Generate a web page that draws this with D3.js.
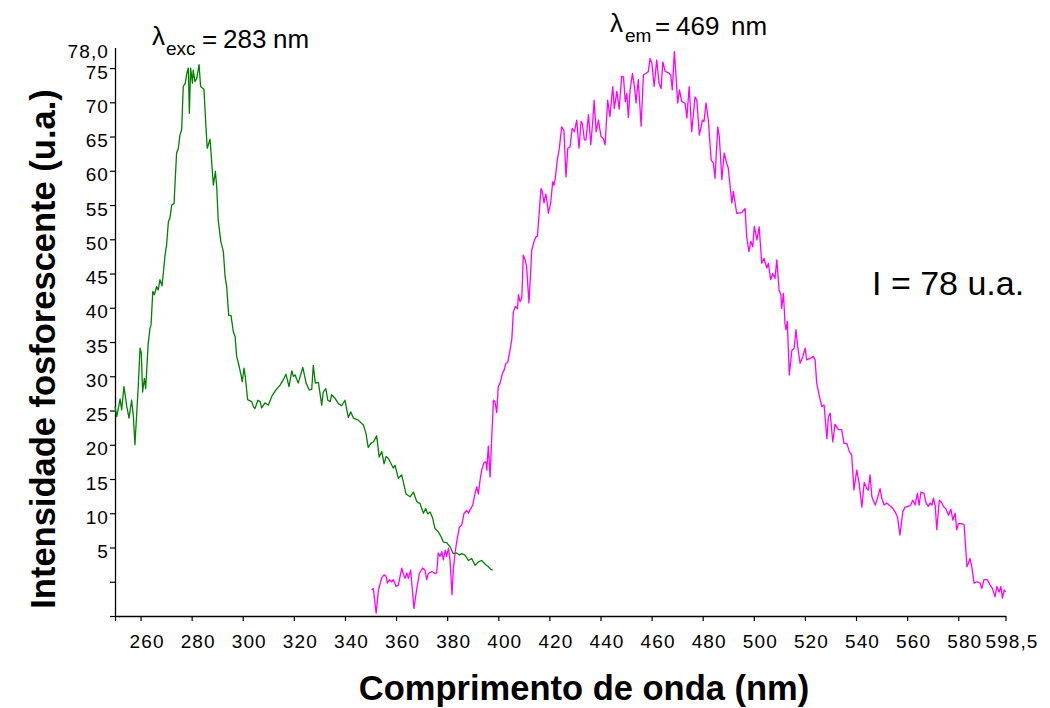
<!DOCTYPE html>
<html><head><meta charset="utf-8">
<script src="https://cdn.jsdelivr.net/npm/d3@7"></script>
<style>
html,body{margin:0;padding:0;background:#fff;}
svg{display:block;}
text{font-family:"Liberation Sans",Arial,Helvetica,sans-serif;}
</style></head><body>
<svg id="chart" width="1050" height="708"></svg>
<script>
// Excitation spectrum (green)
const excWavelength = [250.0,250.7,252.0,252.6,253.5,254.6,255.5,256.5,257.2,257.8,259.1,259.8,260.3,260.8,261.5,262.0,263.0,263.7,264.1,264.8,265.4,266.3,266.9,267.6,268.4,268.9,269.6,270.2,270.9,271.5,272.2,273.1,274.1,274.8,275.4,276.1,276.7,277.5,278.1,278.7,279.1,279.6,280.3,280.6,281.3,282.0,282.9,283.5,284.8,285.6,286.1,287.2,288.5,289.3,289.8,290.4,291.4,292.4,293.1,293.7,294.5,295.4,296.3,297.0,297.6,298.3,299.2,299.8,300.5,301.0,301.9,303.5,304.1,304.8,305.9,306.8,307.4,308.7,310.0,311.4,313.0,314.6,315.9,316.9,318.1,319.2,319.8,320.5,321.7,323.5,324.8,326.0,327.0,327.6,328.4,329.6,330.9,331.5,332.5,333.3,334.2,334.8,336.1,337.4,338.7,340.0,341.3,342.3,343.3,345.2,347.2,348.2,349.1,350.1,351.1,352.4,353.4,354.4,355.3,356.1,357.0,358.9,359.6,360.9,362.2,363.9,365.5,366.8,368.1,369.4,370.7,371.6,372.4,373.3,374.3,375.2,376.5,377.6,378.5,379.8,381.1,382.4,383.7,384.8,385.7,387.0,388.3,389.6,390.9,392.2,393.5,394.8,396.1,397.1,397.8];
const excIntensity = [25.6,24.1,26.7,25.1,28.5,25.6,23.9,26.5,24.1,20.0,28.5,34.1,33.4,27.7,29.7,28.2,34.8,37.0,37.5,42.4,41.9,43.1,42.6,44.1,43.2,45.0,47.7,49.2,52.6,53.1,55.0,55.2,62.6,63.3,65.2,66.0,72.3,72.8,74.2,75.0,68.4,75.0,72.8,74.7,73.0,73.5,75.5,72.3,71.9,66.4,63.3,64.6,57.9,59.9,57.7,52.8,49.7,48.2,44.5,43.1,38.9,38.9,36.5,35.8,32.9,31.9,30.4,29.2,31.2,29.9,26.6,26.3,25.6,25.3,26.5,26.3,25.4,26.1,25.8,27.1,28.0,28.7,29.5,30.3,28.5,30.8,30.0,30.2,29.0,31.3,29.0,28.0,28.1,31.6,29.0,29.1,25.8,27.7,28.2,26.5,26.3,27.3,26.8,26.0,25.7,26.5,24.0,24.8,23.9,23.6,22.9,21.7,19.6,20.2,20.4,21.3,18.2,19.0,17.2,18.3,18.0,16.6,17.0,15.1,15.6,12.8,12.4,13.1,11.7,11.4,10.0,10.7,9.9,10.2,9.3,7.8,7.3,6.6,5.8,5.7,5.1,4.1,4.2,3.9,4.1,3.9,3.1,3.4,2.4,2.9,3.1,2.6,2.2,1.8,1.7];

// Emission spectrum (magenta)
const emWavelength = [350.5,351.1,352.2,353.1,354.4,355.3,356.1,356.6,357.4,358.3,358.9,360.0,360.9,362.2,362.8,363.5,364.2,364.8,365.7,367.0,368.1,369.1,370.4,371.3,372.0,372.6,374.0,375.2,375.9,376.5,377.2,377.9,378.5,379.2,379.8,380.5,381.1,381.9,382.4,383.1,383.7,384.8,385.7,386.6,387.7,388.3,389.0,390.0,390.9,391.6,392.2,392.9,393.5,394.4,395.2,395.5,396.1,396.8,397.4,398.1,398.7,399.4,400.0,400.7,401.6,402.3,403.0,403.7,404.6,405.3,405.9,406.7,407.5,407.9,408.5,409.2,409.8,410.5,411.1,412.0,412.7,413.1,414.0,414.8,415.3,416.1,416.7,417.2,417.9,418.6,419.0,419.6,420.5,421.3,421.8,422.3,423.1,423.9,424.8,425.7,426.5,427.2,428.1,428.9,429.8,430.7,431.6,432.4,432.9,433.7,434.3,435.3,436.2,437.0,437.5,438.3,439.2,440.2,441.1,441.8,442.8,443.7,444.8,445.4,446.4,447.3,448.3,449.0,449.7,450.3,450.9,451.6,452.5,453.3,453.9,454.8,455.9,456.8,457.7,458.7,459.4,460.1,461.0,462.0,462.9,463.7,464.4,465.3,466.6,467.5,468.1,468.9,469.6,470.2,470.9,471.8,473.1,473.8,474.7,475.7,477.0,477.7,478.7,479.9,480.5,481.3,482.2,483.3,484.2,484.8,485.9,486.5,487.5,488.4,489.4,490.0,491.4,492.0,493.3,495.3,496.6,497.2,498.1,498.8,499.6,500.2,501.2,502.1,503.1,504.0,505.1,505.7,506.6,507.4,508.3,509.0,509.9,510.6,510.9,511.6,512.2,512.6,513.1,513.9,514.9,515.8,516.5,517.2,518.1,519.2,520.1,520.7,522.0,523.3,524.0,524.6,525.7,526.6,527.5,528.6,529.2,529.9,530.9,531.8,533.1,534.4,535.3,536.4,537.4,538.3,539.2,540.3,541.2,542.3,543.2,544.2,544.8,545.5,546.2,547.5,548.4,549.4,550.1,551.0,552.0,553.3,554.4,555.3,556.2,557.2,558.3,559.2,560.5,561.4,562.2,563.1,564.0,564.7,565.4,566.6,567.4,568.3,569.0,569.7,570.3,571.0,571.6,572.6,573.6,574.2,575.3,576.2,577.1,577.9,578.8,579.4,580.1,581.4,582.3,583.4,584.0,584.6,585.3,586.2,587.3,588.6,589.2,590.1,591.4,592.5,593.4,594.4,595.1,596.0,596.7,597.3,598.0,598.5];
const emIntensity = [-1.2,-1.0,-4.6,-1.2,0.6,1.0,0.8,-0.2,0.3,0.0,0.3,-0.7,-0.5,2.0,1.2,0.5,1.3,0.5,1.7,-3.9,-1.0,1.2,2.0,1.7,0.3,1.2,1.5,1.2,1.3,4.2,3.7,4.4,3.2,4.6,3.7,4.9,3.2,-1.9,1.7,4.2,5.8,8.0,8.3,10.0,10.4,10.0,10.5,11.2,12.9,13.9,12.8,14.9,16.3,17.4,17.5,16.3,19.8,15.3,20.7,26.5,26.3,24.7,28.5,29.0,30.4,30.9,31.9,32.0,33.8,35.4,39.4,40.2,39.9,41.9,40.9,41.4,47.7,47.0,46.0,40.7,45.5,48.4,49.7,50.4,50.4,54.3,57.4,57.0,55.3,56.6,55.7,53.8,55.3,58.4,57.9,58.9,61.6,63.3,66.4,65.9,59.1,63.3,63.5,66.2,65.7,67.4,63.3,67.2,66.9,64.5,64.5,68.2,63.8,67.4,70.3,65.7,67.4,65.0,64.7,63.8,70.3,67.9,72.3,69.1,71.6,69.0,73.8,73.7,70.1,71.3,67.8,71.8,74.2,72.3,69.9,73.3,66.5,74.0,74.2,74.5,76.4,75.7,72.3,76.2,72.8,72.0,75.9,74.5,74.3,74.0,71.8,77.4,73.7,69.9,71.8,70.1,69.9,67.7,72.3,65.7,70.8,70.3,65.2,67.4,67.2,69.9,67.4,61.6,61.1,58.9,66.4,65.0,58.7,62.6,61.1,60.4,55.3,57.0,53.8,53.9,54.5,50.4,48.2,49.7,48.9,51.9,49.9,51.8,46.5,47.2,45.8,46.5,44.1,45.0,44.3,47.0,42.6,41.9,39.9,42.1,37.7,36.8,38.0,30.2,33.8,34.1,36.8,34.3,31.9,32.9,34.1,32.4,32.6,32.9,32.4,29.0,27.0,25.6,25.8,20.9,24.1,24.6,20.4,23.0,22.2,22.2,20.2,20.2,19.0,18.5,13.4,16.3,14.4,10.9,14.5,13.6,13.4,15.6,12.4,11.2,12.2,13.6,12.2,11.2,11.5,11.1,10.7,10.2,9.5,6.8,10.2,10.9,11.0,11.2,11.9,11.2,12.9,11.2,13.1,12.9,11.5,11.0,11.5,11.2,12.2,11.1,7.6,11.9,11.5,11.0,10.6,9.7,10.6,9.0,10.0,7.6,8.5,8.5,8.3,2.2,2.7,3.4,2.2,-0.2,0.0,-0.2,-1.0,0.3,0.3,-0.5,-1.0,-2.2,-0.7,-1.5,-0.7,-2.4,-1.2,-1.5];

// Axis ticks
const xTickValues = [250,260,280,300,320,340,360,380,400,420,440,460,480,500,520,540,560,580,598.5];
const xTickLabels = ["","260","280","300","320","340","360","380","400","420","440","460","480","500","520","540","560","580","598,5"];
const yTickValues = [-5,0,5,10,15,20,25,30,35,40,45,50,55,60,65,70,75];
const yTickLabels = ["","","5","10","15","20","25","30","35","40","45","50","55","60","65","70","75"];
const yTopValue = 78;
const yTopLabel = "78,0";

const svg = d3.select("#chart");
const FONT = '"Liberation Sans", Arial, Helvetica, sans-serif';

const x = d3.scaleLinear().domain([250, 598.5]).range([115, 1005.5]);
const y = d3.scaleLinear().domain([-5, 78]).range([616, 47.5]);

// X axis
const gx = svg.append("g")
  .attr("transform", `translate(0,${y(-5)})`)
  .call(d3.axisBottom(x)
    .tickValues(xTickValues)
    .tickSize(5).tickSizeOuter(0).tickPadding(14)
    .tickFormat((d, i) => xTickLabels[i]));
gx.attr("font-family", FONT).attr("font-size", 19);
gx.select(".domain").attr("stroke", "#000").attr("stroke-width", 1.3);
gx.selectAll(".tick line").attr("stroke", "#000").attr("stroke-width", 1.2);
gx.selectAll(".tick text").attr("fill", "#000")
  .attr("letter-spacing", "1.1px")
  .attr("dx", (d, i) => i === xTickValues.length - 1 ? 6 : 6);

// Y axis
const gy = svg.append("g")
  .attr("transform", `translate(${x(250)},0)`)
  .call(d3.axisLeft(y)
    .tickValues(yTickValues)
    .tickSize(5).tickSizeOuter(0).tickPadding(1)
    .tickFormat((d, i) => yTickLabels[i]));
gy.attr("font-family", FONT).attr("font-size", 19);
gy.select(".domain").attr("stroke", "#000").attr("stroke-width", 1.3);
gy.selectAll(".tick line").attr("stroke", "#000").attr("stroke-width", 1.2);
gy.selectAll(".tick text").attr("fill", "#000")
  .attr("letter-spacing", "1.1px")
  .attr("transform", "translate(0,4)");

svg.append("text")
  .attr("x", x(250) - 6).attr("y", y(yTopValue) + 4).attr("dy", "0.32em")
  .attr("text-anchor", "end").attr("font-size", 19).attr("letter-spacing", "1.1px")
  .text(yTopLabel);

// Curves
const lineExc = d3.line().x(i => x(excWavelength[i])).y(i => y(excIntensity[i]));
const lineEm = d3.line().x(i => x(emWavelength[i])).y(i => y(emIntensity[i]));

svg.append("path").datum(d3.range(excWavelength.length))
  .attr("d", lineExc).attr("fill", "none")
  .attr("stroke", "#008000").attr("stroke-width", 1.3).attr("stroke-linejoin", "round");
svg.append("path").datum(d3.range(emWavelength.length))
  .attr("d", lineEm).attr("fill", "none")
  .attr("stroke", "#ff00ff").attr("stroke-width", 1.3).attr("stroke-linejoin", "round");

// Axis titles
svg.append("text")
  .attr("x", 584).attr("y", 700).attr("text-anchor", "middle")
  .attr("font-weight", "bold").attr("font-size", 34.5)
  .text("Comprimento de onda (nm)");
svg.append("text")
  .attr("transform", "translate(55,349) rotate(-90)").attr("text-anchor", "middle")
  .attr("font-weight", "bold").attr("font-size", 34.5)
  .text("Intensidade fosforescente (u.a.)");

// Annotations
function lambdaLabel(x0, base, sub, subX, eqX, numX, num, unitX) {
  const g = svg.append("g").attr("font-size", 26);
  g.append("text").attr("x", x0).attr("y", base - 3).text("λ");
  g.append("text").attr("x", subX).attr("y", base + 7).attr("font-size", 19).text(sub);
  g.append("text").attr("x", eqX).attr("y", base).text("=");
  g.append("text").attr("x", numX).attr("y", base).text(num);
  g.append("text").attr("x", unitX).attr("y", base).text("nm");
}
lambdaLabel(152, 48, "exc", 166, 202, 223, "283", 273);
lambdaLabel(610, 35, "em", 625, 655, 676, "469", 731);

svg.append("text")
  .attr("x", 872).attr("y", 295).attr("font-size", 34)
  .text("I = 78 u.a.");
</script>
</body></html>
